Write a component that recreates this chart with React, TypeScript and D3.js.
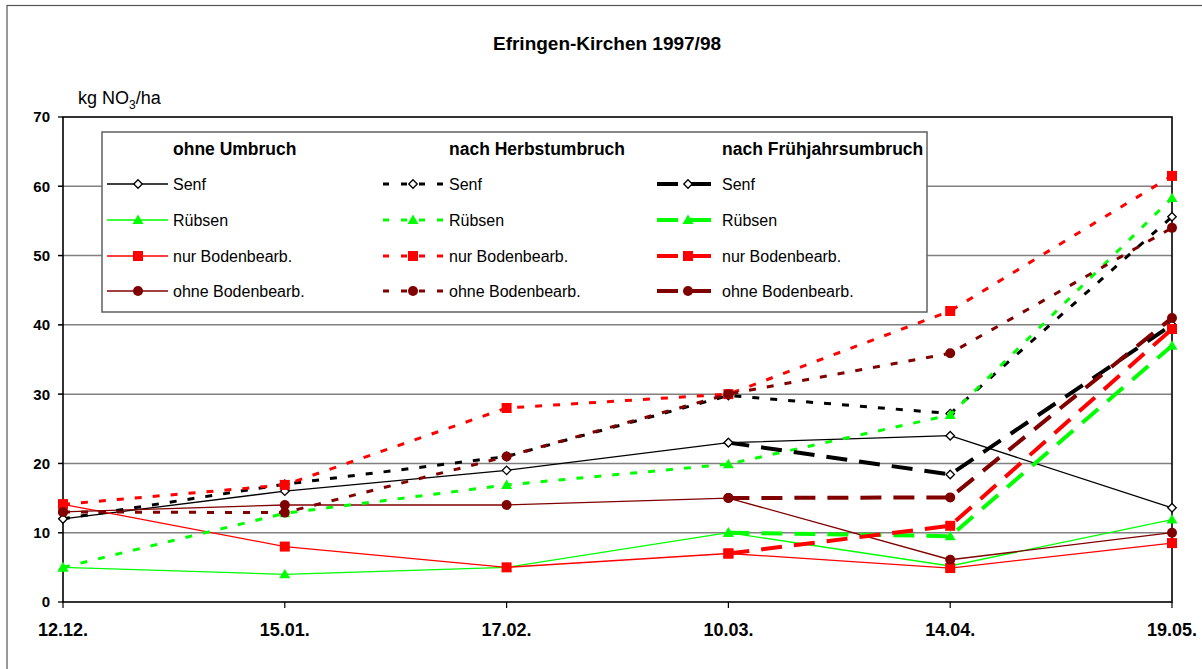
import * as d3 from "d3"

// Termine (Kategorien der x-Achse)
const dates = ["12.12.", "15.01.", "17.02.", "10.03.", "14.04.", "19.05."]
const yTicks = [0, 10, 20, 30, 40, 50, 60, 70]

const groups = ["ohne Umbruch", "nach Herbstumbruch", "nach Frühjahrsumbruch"]
const crops = ["Senf", "Rübsen", "nur Bodenbearb.", "ohne Bodenbearb."]

// ohne Umbruch
const ohneSenf = [12, 16, 19, 23, 24, 13.6]
const ohneRuebsen = [5, 4, 5, 10, 5.2, 11.9]
const ohneNur = [14.1, 8, 5, 7, 4.9, 8.5]
const ohneOhne = [13, 14, 14, 15, 6.1, 10]

// nach Herbstumbruch
const herbstSenf = [12, 17, 21, 29.8, 27.2, 55.6]
const herbstRuebsen = [5, 12.8, 16.9, 19.9, 27, 58.3]
const herbstNur = [14.1, 16.9, 28, 30, 42, 61.5]
const herbstOhne = [13, 12.9, 21, 30, 35.9, 54]

// nach Frühjahrsumbruch
const fruehSenf = [null, null, null, 23, 18.4, 40]
const fruehRuebsen = [null, null, null, 10, 9.5, 37]
const fruehNur = [null, null, null, 7, 11, 39.4]
const fruehOhne = [null, null, null, 15, 15.1, 41]

const values = [
  [ohneSenf, ohneRuebsen, ohneNur, ohneOhne],
  [herbstSenf, herbstRuebsen, herbstNur, herbstOhne],
  [fruehSenf, fruehRuebsen, fruehNur, fruehOhne],
]

const colors = ["#000000", "#00ff00", "#ff0000", "#800000"]
const lineStyles = [
  { width: 1.3, dash: "none" },
  { width: 3, dash: "7 11" },
  { width: 4, dash: "21 12" },
]

const font = "'Liberation Sans', Arial, sans-serif"

const W = 1202
const H = 669
const left = 63
const right = 1172
const top = 117
const bottom = 602

const x = d3.scalePoint<string>().domain(dates).range([left, right]).padding(0)
const y = d3.scaleLinear().domain([0, 70]).range([bottom, top])

function Marker({ crop, cx, cy }: { crop: number; cx: number; cy: number }) {
  if (crop === 0) {
    const s = d3.symbol(d3.symbolDiamond2, 46)()
    return <path d={s!} transform={`translate(${cx},${cy})`} fill="#fff" stroke="#000" strokeWidth={1.3} />
  }
  if (crop === 1) {
    const h = 9
    return <path d={`M${cx},${cy - h * 0.6}L${cx + 5.5},${cy + h * 0.45}L${cx - 5.5},${cy + h * 0.45}Z`} fill="#00ff00" />
  }
  if (crop === 2) {
    return <rect x={cx - 5} y={cy - 5} width={10} height={10} fill="#ff0000" />
  }
  return <circle cx={cx} cy={cy} r={5} fill="#800000" />
}

export default function App() {
  const line = d3
    .line<number | null>()
    .defined((d) => d !== null)
    .x((d, i) => x(dates[i])!)
    .y((d) => y(d as number))

  const legendCols = [
    { x0: 107, x1: 168, mx: 138, tx: 173 },
    { x0: 383, x1: 443, mx: 413, tx: 449 },
    { x0: 657, x1: 714, mx: 688, tx: 722 },
  ]
  const legendRows = [184, 220, 256, 291]

  return (
    <svg width={W} height={H} style={{ position: "absolute", left: 0, top: 0, background: "#fff" }} fontFamily={font}>
      <rect x={7} y={5.5} width={W + 10} height={H + 10} fill="#fff" stroke="#555" strokeWidth={1.2} />

      <text x={607} y={50} textAnchor="middle" fontWeight="bold" fontSize={19}>
        Efringen-Kirchen 1997/98
      </text>
      <text x={78} y={104} fontSize={18}>
        kg NO<tspan fontSize={12} dy={5}>3</tspan>
        <tspan dy={-5}>/ha</tspan>
      </text>

      {/* Gitterlinien und y-Achse */}
      {yTicks.map((t) => (
        <g key={t}>
          {t > 0 && t < 70 && <line x1={58} x2={right} y1={y(t)} y2={y(t)} stroke="#808080" strokeWidth={1.5} />}
          <line x1={58} x2={left} y1={y(t)} y2={y(t)} stroke="#000" strokeWidth={1.3} />
          <text x={50} y={y(t)} dy="0.36em" textAnchor="end" fontWeight="bold" fontSize={15}>
            {t}
          </text>
        </g>
      ))}
      <rect x={left} y={top} width={right - left} height={bottom - top} fill="none" stroke="#000" strokeWidth={1.6} />

      {/* x-Achse */}
      {dates.map((d) => (
        <g key={d}>
          <line x1={x(d)} x2={x(d)} y1={bottom} y2={bottom + 6} stroke="#000" strokeWidth={1.2} />
          <text x={x(d)} y={636} textAnchor="middle" fontWeight="bold" fontSize={18}>
            {d}
          </text>
        </g>
      ))}

      {/* Legende */}
      <rect x={102} y={132} width={825} height={180} fill="#fff" stroke="#606060" strokeWidth={1.5} />
      {groups.map((g, gi) => (
        <text key={g} x={legendCols[gi].tx} y={149} dy="0.36em" fontWeight="bold" fontSize={17.5}>
          {g}
        </text>
      ))}
      {groups.map((g, gi) =>
        crops.map((c, ci) => {
          const col = legendCols[gi]
          const ry = legendRows[ci]
          return (
            <g key={g + c}>
              <line
                x1={col.x0}
                x2={col.x1}
                y1={ry}
                y2={ry}
                stroke={colors[ci]}
                strokeWidth={lineStyles[gi].width}
                strokeDasharray={gi === 1 ? "6 12" : lineStyles[gi].dash}
              />
              <Marker crop={ci} cx={col.mx} cy={ry} />
              <text x={col.tx} y={ry} dy="0.36em" fontSize={16}>
                {c}
              </text>
            </g>
          )
        }),
      )}

      {/* Datenreihen */}
      {values.map((grp, gi) =>
        grp.map((vals, ci) => (
          <g key={`${gi}-${ci}`}>
            <path
              d={line(vals)!}
              fill="none"
              stroke={colors[ci]}
              strokeWidth={lineStyles[gi].width}
              strokeDasharray={lineStyles[gi].dash}
            />
            {vals.map((v, i) => (v === null ? null : <Marker key={i} crop={ci} cx={x(dates[i])!} cy={y(v)} />))}
          </g>
        )),
      )}
    </svg>
  )
}
